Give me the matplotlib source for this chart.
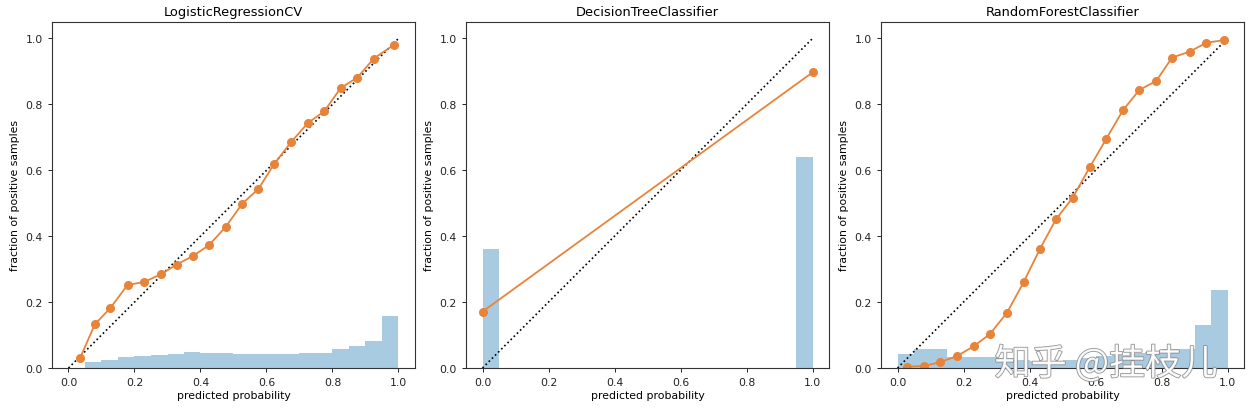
import matplotlib
matplotlib.use('Agg')
import matplotlib.pyplot as plt
import matplotlib.patheffects as pe
import numpy as np

# histogram bins (20 bins over 0..1)
bin_edges = np.linspace(0, 1, 21)

# LogisticRegressionCV
lr_x = [0.035, 0.08, 0.126, 0.179, 0.229, 0.279, 0.328, 0.377, 0.426, 0.477,
        0.526, 0.575, 0.624, 0.674, 0.726, 0.775, 0.825, 0.875, 0.925, 0.985]
lr_y = [0.03, 0.133, 0.181, 0.252, 0.261, 0.284, 0.314, 0.34, 0.373, 0.429,
        0.498, 0.543, 0.62, 0.685, 0.744, 0.779, 0.85, 0.881, 0.939, 0.98]
lr_hist = [0.0, 0.019, 0.025, 0.033, 0.037, 0.040, 0.044, 0.048, 0.045, 0.045,
           0.041, 0.041, 0.042, 0.044, 0.047, 0.047, 0.057, 0.067, 0.081, 0.157]

# DecisionTreeClassifier
dt_x = [0.0, 1.0]
dt_y = [0.171, 0.897]
dt_hist = [0.36, 0, 0, 0, 0, 0, 0, 0, 0, 0,
           0, 0, 0, 0, 0, 0, 0, 0, 0, 0.64]

# RandomForestClassifier
rf_x = [0.029, 0.08, 0.13, 0.18, 0.231, 0.28, 0.332, 0.382, 0.431, 0.48,
        0.531, 0.583, 0.633, 0.683, 0.733, 0.784, 0.832, 0.885, 0.936, 0.989]
rf_y = [0.004, 0.006, 0.018, 0.036, 0.066, 0.103, 0.168, 0.26, 0.36, 0.451,
        0.517, 0.61, 0.696, 0.782, 0.844, 0.871, 0.942, 0.96, 0.987, 0.995]
rf_hist = [0.043, 0.059, 0.059, 0.033, 0.033, 0.033, 0.030, 0.025, 0.022, 0.022,
           0.025, 0.030, 0.035, 0.040, 0.045, 0.050, 0.057, 0.057, 0.129, 0.238]

names = ['LogisticRegressionCV', 'DecisionTreeClassifier', 'RandomForestClassifier']
curves = [(lr_x, lr_y, lr_hist), (dt_x, dt_y, dt_hist), (rf_x, rf_y, rf_hist)]

W, H = 1258, 414
fig = plt.figure(figsize=(W / 100, H / 100), dpi=100)
lefts = [52, 466, 881]

for left, name, (cx, cy, hv) in zip(lefts, names, curves):
    ax = fig.add_axes([left / W, 45 / H, 363 / W, 346 / H])
    ax.stairs(hv, bin_edges, fill=True, color='#1f77b4', alpha=0.38, linewidth=0)
    ax.plot([0, 1], [0, 1], 'k:', lw=1.2)
    ax.plot(cx, cy, 'o-', color='#e8843a', lw=1.3, ms=5.5)
    ax.set_xlim(-0.05, 1.05)
    ax.set_ylim(0, 1.05)
    ax.set_xticks([0, 0.2, 0.4, 0.6, 0.8, 1.0])
    ax.set_yticks([0, 0.2, 0.4, 0.6, 0.8, 1.0])
    ax.tick_params(labelsize=7.8, length=3, width=0.7, colors='#222222')
    for s in ax.spines.values():
        s.set_linewidth(0.8)
        s.set_color('#333333')
    ax.set_title(name, fontsize=9.4, pad=5)
    ax.set_xlabel('predicted probability', fontsize=7.8, labelpad=2)
    ax.set_ylabel('fraction of positive samples', fontsize=7.8, labelpad=4)

# watermark (overlaps the tick labels, as in the source image)
fig.text(1106 / W, 0.118, '知乎 @挂枝儿', fontsize=26, ha='center', va='center',
         color='white', alpha=0.9,
         family=['Noto Sans CJK SC', 'DejaVu Sans'],
         path_effects=[pe.withStroke(linewidth=1.2, foreground='#8a8a8a')])

fig.savefig('out.png', dpi=100)
